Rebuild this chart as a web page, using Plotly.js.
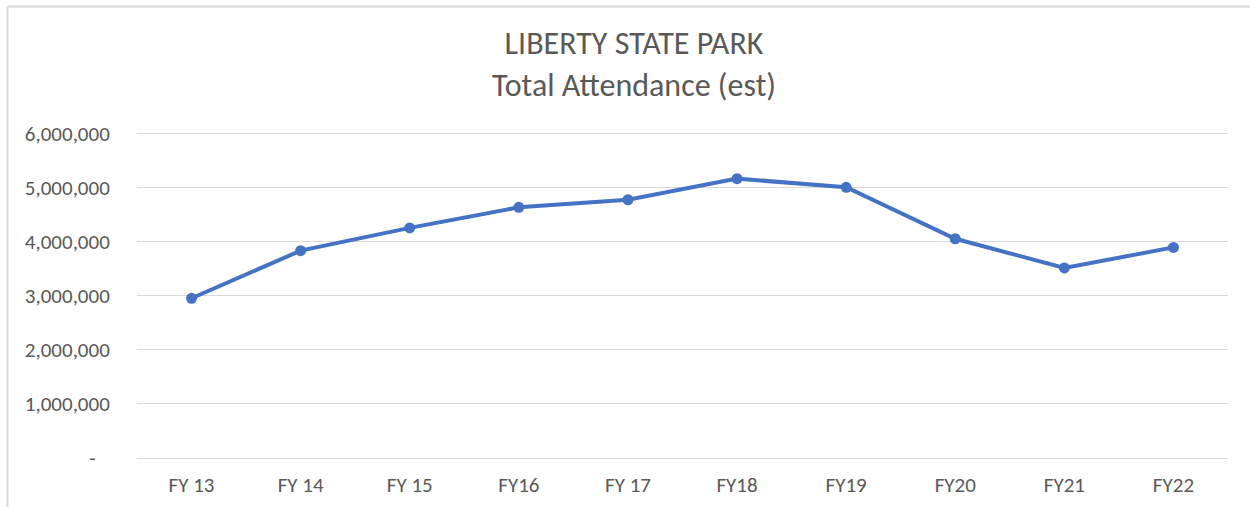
<!DOCTYPE html>
<html>
<head>
<meta charset="utf-8">
<script src="https://cdn.plot.ly/plotly-3.0.1.min.js"></script>
<style>
  html, body { margin: 0; padding: 0; background: #ffffff; }
  #chart { width: 1250px; height: 507px; }
</style>
</head>
<body>
<div id="chart"></div>
<script>
const categories = ["FY 13", "FY 14", "FY 15", "FY16", "FY 17", "FY18", "FY19", "FY20", "FY21", "FY22"];
const attendance = [2950000, 3830000, 4250000, 4630000, 4770000, 5160000, 5000000, 4050000, 3510000, 3890000];
const yTickVals = [0, 1000000, 2000000, 3000000, 4000000, 5000000, 6000000];
const yTickText = ["-\u00a0\u00a0\u00a0", "1,000,000", "2,000,000", "3,000,000", "4,000,000", "5,000,000", "6,000,000"];
const titleText = "LIBERTY STATE PARK<br>Total Attendance (est)";

const FONT = "Carlito, Calibri, Lato, 'Open Sans', sans-serif";

const trace = {
  type: "scatter",
  mode: "lines+markers",
  x: categories,
  y: attendance,
  line: { color: "#4472C4", width: 4 },
  marker: { color: "#4472C4", size: 11 },
  hoverinfo: "x+y",
  showlegend: false
};

const layout = {
  width: 1250,
  height: 507,
  margin: { l: 137, r: 22, t: 131, b: 49 },
  paper_bgcolor: "#ffffff",
  plot_bgcolor: "#ffffff",
  font: { family: FONT, color: "#595959", size: 21 },
  title: {
    text: titleText,
    font: { family: FONT, size: 32, color: "#595959" },
    x: 634 / 1250,
    xref: "container",
    xanchor: "center",
    y: 1 - 54 / 507,
    yref: "container",
    yanchor: "middle"
  },
  xaxis: {
    type: "category",
    range: [-0.5, 9.5],
    showgrid: false,
    zeroline: false,
    showline: false,
    ticks: "outside",
    ticklen: 8,
    tickcolor: "rgba(0,0,0,0)",
    tickfont: { family: FONT, size: 21, color: "#595959" }
  },
  yaxis: {
    range: [0, 6040000],
    tickvals: yTickVals,
    ticktext: yTickText,
    showgrid: true,
    gridcolor: "#d9d9d9",
    gridwidth: 1,
    zeroline: true,
    zerolinecolor: "#d9d9d9",
    zerolinewidth: 1,
    showline: false,
    ticks: "outside",
    ticklen: 22,
    tickcolor: "rgba(0,0,0,0)",
    tickfont: { family: FONT, size: 21, color: "#595959" }
  },
  shapes: [
    { type: "line", xref: "paper", yref: "paper",
      x0: (7.5 - 137) / 1091, x1: 1.03, y0: (458 - 6.5) / 327, y1: (458 - 6.5) / 327,
      line: { color: "#d9d9d9", width: 2 } },
    { type: "line", xref: "paper", yref: "paper",
      x0: (7.5 - 137) / 1091, x1: (7.5 - 137) / 1091, y0: (458 - 6.5) / 327, y1: -0.2,
      line: { color: "#d9d9d9", width: 2 } }
  ]
};

Plotly.newPlot("chart", [trace], layout, { displayModeBar: false, staticPlot: true });
</script>
</body>
</html>
